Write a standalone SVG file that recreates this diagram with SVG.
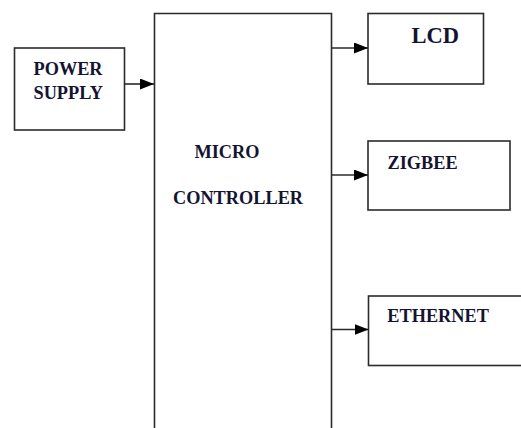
<svg xmlns="http://www.w3.org/2000/svg" width="521" height="428" viewBox="0 0 521 428">
<style>
.box{fill:#fff;stroke:#2b2b2b;stroke-width:1.6}
.lbl{font-family:'Liberation Serif',serif;font-weight:bold;font-size:18.3px;fill:#141432}
.conn{stroke:#2b2b2b;stroke-width:1.6;fill:none}
</style>
<defs>
<marker id="ah" markerWidth="14" markerHeight="11" refX="14" refY="5.5" orient="auto" markerUnits="userSpaceOnUse">
<path d="M0,0 L14,5.5 L0,11 Z" fill="#000"/>
</marker>
</defs>
<rect width="521" height="428" fill="#fff"/>
<g id="power">
<rect class="box" x="14.5" y="48" width="110" height="82"/>
<text class="lbl" font-family="Liberation Serif, serif" x="33.5" y="75">POWER</text>
<text class="lbl" font-family="Liberation Serif, serif" x="33.5" y="98.5">SUPPLY</text>
</g>
<g id="micro">
<path class="box" d="M154.5,430 L154.5,13.5 L331.5,13.5 L331.5,430"/>
<text class="lbl" font-family="Liberation Serif, serif" x="194.5" y="157.5">MICRO</text>
<text class="lbl" font-family="Liberation Serif, serif" x="173" y="203.5">CONTROLLER</text>
</g>
<g id="lcd">
<rect class="box" x="368" y="13.5" width="115.5" height="70.5"/>
<text class="lbl" font-family="Liberation Serif, serif" x="411.5" y="43.3" style="font-size:22.5px">LCD</text>
</g>
<g id="zigbee">
<rect class="box" x="368" y="141" width="142" height="69"/>
<text class="lbl" font-family="Liberation Serif, serif" x="387.5" y="169">ZIGBEE</text>
</g>
<g id="ethernet">
<rect class="box" x="368.5" y="296" width="160" height="69.5"/>
<text class="lbl" font-family="Liberation Serif, serif" x="387.3" y="322">ETHERNET</text>
</g>
<g id="connectors">
<line class="conn" x1="124.5" y1="84" x2="154" y2="84" marker-end="url(#ah)"/>
<line class="conn" x1="331.5" y1="48" x2="368" y2="48" marker-end="url(#ah)"/>
<line class="conn" x1="331.5" y1="175" x2="368" y2="175" marker-end="url(#ah)"/>
<line class="conn" x1="331.5" y1="329.5" x2="368.5" y2="329.5" marker-end="url(#ah)"/>
</g>
</svg>
